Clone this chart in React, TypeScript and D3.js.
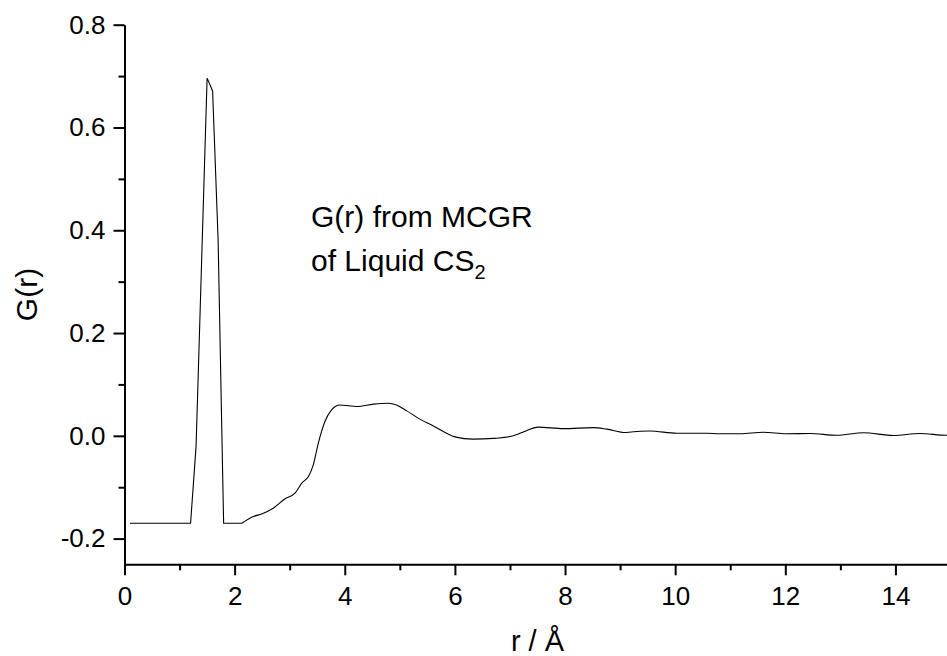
import React, { useEffect, useRef } from "react";
import * as d3 from "d3";

const rValues = [
  0.1, 1.2, 1.3, 1.5, 1.6, 1.7, 1.8, 2.13, 2.34, 2.49, 2.7, 2.91, 3.1, 3.22, 3.34, 3.43, 3.52, 3.64,
  3.76, 3.91, 4.22, 4.52, 4.79, 4.94, 5.12, 5.37, 5.61, 5.85, 6.0, 6.33, 6.7, 7.03, 7.3, 7.51, 7.97,
  8.51, 8.76, 9.1, 9.36, 9.54, 10.03, 10.57, 10.81, 11.18, 11.6, 12.02, 12.45, 12.93, 13.42, 13.96,
  14.44, 14.93, 15.0,
];
const gValues = [
  -0.17, -0.17, -0.02, 0.696, 0.671, 0.381, -0.17, -0.17, -0.157, -0.152, -0.141, -0.123, -0.111,
  -0.092, -0.079, -0.056, -0.014, 0.028, 0.0505, 0.06, 0.057, 0.0616, 0.0635, 0.06, 0.049, 0.032,
  0.019, 0.005, -0.002, -0.0065, -0.005, -0.001, 0.01, 0.017, 0.014, 0.016, 0.013, 0.0065, 0.009,
  0.0095, 0.005, 0.005, 0.004, 0.004, 0.007, 0.004, 0.0045, 0.001, 0.006, 0.0006, 0.0045, 0.001,
  0.001,
];
const peakEndR = 2.13;
const xMajorTicks = [0, 2, 4, 6, 8, 10, 12, 14];
const xMinorTicks = [1, 3, 5, 7, 9, 11, 13, 15];
const yMajorTicks = [-0.2, 0.0, 0.2, 0.4, 0.6, 0.8];
const yMinorTicks = [-0.1, 0.1, 0.3, 0.5, 0.7];

const W = 947;
const H = 656;
const FONT = "'Liberation Sans', Arial, Helvetica, sans-serif";

export default function App() {
  const ref = useRef<SVGSVGElement>(null);

  useEffect(() => {
    const svg = d3.select(ref.current);
    svg.selectAll("*").remove();

    const x = d3.scaleLinear().domain([0, 15]).range([124.5, 950.5]);
    const y = d3.scaleLinear().domain([-0.25, 0.8]).range([564.3, 24.7]);

    const data = rValues.map((r, i) => [r, gValues[i]] as [number, number]);
    const peakPart = data.filter((d) => d[0] <= peakEndR);
    const smoothPart = data.filter((d) => d[0] >= peakEndR);

    const linear = d3
      .line<[number, number]>()
      .x((d) => x(d[0]))
      .y((d) => y(d[1]))
      .curve(d3.curveLinear);
    const smooth = d3
      .line<[number, number]>()
      .x((d) => x(d[0]))
      .y((d) => y(d[1]))
      .curve(d3.curveMonotoneX);

    svg
      .append("path")
      .attr("d", (linear(peakPart) as string) + (smooth(smoothPart) as string).replace(/^M/, "L"))
      .attr("fill", "none")
      .attr("stroke", "#000")
      .attr("stroke-width", 1.1)
      .attr("stroke-linejoin", "miter");

    const styleAxis = (g: any) => {
      g.selectAll("path").attr("stroke", "#000").attr("stroke-width", 2);
      g.selectAll("line").attr("stroke", "#000").attr("stroke-width", 2);
      g.selectAll("text").attr("fill", "#000").attr("font-family", FONT).attr("font-size", 26);
    };

    const gx = svg
      .append("g")
      .attr("transform", `translate(0,${y(-0.25)})`)
      .call(
        d3
          .axisBottom(x)
          .tickValues(xMajorTicks)
          .tickSize(11)
          .tickSizeOuter(0)
          .tickPadding(11)
          .tickFormat((d: any) => String(d))
      );
    styleAxis(gx);

    const gxm = svg
      .append("g")
      .attr("transform", `translate(0,${y(-0.25)})`)
      .call(d3.axisBottom(x).tickValues(xMinorTicks).tickSize(6).tickSizeOuter(0).tickFormat(() => ""));
    styleAxis(gxm);
    gxm.select("path").remove();

    const gy = svg
      .append("g")
      .attr("transform", `translate(${x(0)},0)`)
      .call(
        d3
          .axisLeft(y)
          .tickValues(yMajorTicks)
          .tickSize(11)
          .tickSizeOuter(0)
          .tickPadding(8)
          .tickFormat((d: any) => (+d).toFixed(1))
      );
    styleAxis(gy);

    const gym = svg
      .append("g")
      .attr("transform", `translate(${x(0)},0)`)
      .call(d3.axisLeft(y).tickValues(yMinorTicks).tickSize(6).tickSizeOuter(0).tickFormat(() => ""));
    styleAxis(gym);
    gym.select("path").remove();

    svg
      .append("text")
      .attr("x", (x(0) + x(15)) / 2)
      .attr("y", 651)
      .attr("text-anchor", "middle")
      .attr("font-family", FONT)
      .attr("font-size", 29)
      .text("r / Å");

    svg
      .append("text")
      .attr("transform", `translate(37,${(y(-0.25) + y(0.8)) / 2}) rotate(-90)`)
      .attr("text-anchor", "middle")
      .attr("font-family", FONT)
      .attr("font-size", 30)
      .text("G(r)");

    svg
      .append("text")
      .attr("x", 311)
      .attr("y", 226.5)
      .attr("font-family", FONT)
      .attr("font-size", 30)
      .text("G(r) from MCGR");

    const t2 = svg
      .append("text")
      .attr("x", 311)
      .attr("y", 271)
      .attr("font-family", FONT)
      .attr("font-size", 30);
    t2.append("tspan").text("of Liquid CS");
    t2.append("tspan").attr("font-size", 20).attr("dy", 8).text("2");
  }, []);

  return (
    <svg
      ref={ref}
      width={W}
      height={H}
      style={{ position: "absolute", left: 0, top: 0, background: "#fff", overflow: "hidden" }}
    />
  );
}
